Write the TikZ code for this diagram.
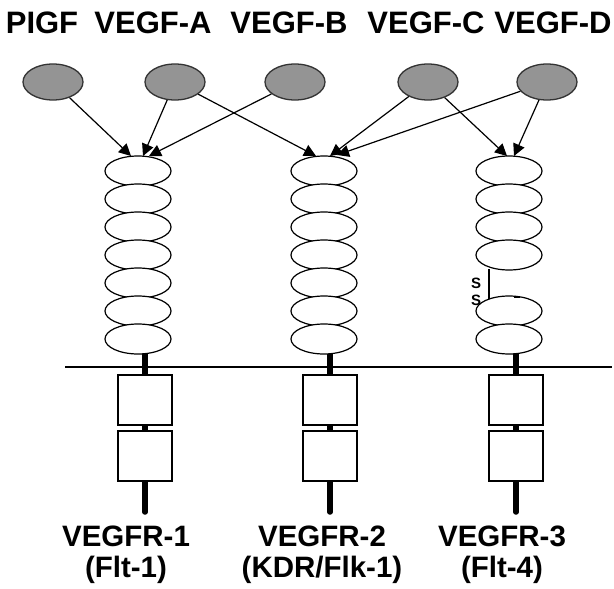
\documentclass[tikz,border=0pt]{standalone}
\usepackage{fontspec}
\setmainfont{Liberation Sans}
\usetikzlibrary{arrows.meta,shapes.geometric}
\begin{document}
\begin{tikzpicture}[x=1pt,y=-1pt,
  toplbl/.style={font=\bfseries\fontsize{31}{31}\selectfont, inner sep=0pt, anchor=base},
  botlbl/.style={font=\bfseries\fontsize{29.5}{30}\selectfont, inner sep=0pt, anchor=base, align=center},
  ligand/.style={ellipse, draw=black!80, line width=1.3pt, fill=black!42, minimum width=60pt, minimum height=36pt, inner sep=0pt},
  igdom/.style={ellipse, draw=black, line width=1.2pt, fill=white, minimum width=66pt, minimum height=30pt, inner sep=0pt},
  kinase/.style={rectangle, draw=black, line width=1.2pt, fill=white, minimum width=54pt, minimum height=50pt, inner sep=0pt},
  stem/.style={line width=5.5pt, line cap=round},
  bind/.style={line width=1.2pt, -{Triangle[length=12pt,width=12pt]}},
  sslbl/.style={font=\bfseries\fontsize{15}{17.5}\selectfont, inner sep=0pt, align=center}
]
\useasboundingbox (0,0) rectangle (614,589);

% top labels
\node[toplbl] (tP) at (42,34) {PIGF};
\node[toplbl] (tA) at (153,34) {VEGF-A};
\node[toplbl] (tB) at (289,34) {VEGF-B};
\node[toplbl] (tC) at (426,34) {VEGF-C};
\node[toplbl] (tD) at (553,34) {VEGF-D};

% ligands
\node[ligand] (LP) at (53,82) {};
\node[ligand] (LA) at (175,82) {};
\node[ligand] (LB) at (295,82) {};
\node[ligand] (LC) at (428,82) {};
\node[ligand] (LD) at (547,82) {};

% membrane
\coordinate (m1) at (65,367);
\coordinate (m2) at (612,367);
\draw[line width=1.2pt] (m1) -- (m2);

% stems
\foreach \n/\x in {1/145,2/330,3/516}{
  \coordinate (s\n top) at (\x,352);
  \coordinate (s\n bot) at (\x,512);
  \draw[stem] (s\n top) -- (s\n bot);
  \node[kinase] (k\n a) at (\x,400) {};
  \node[kinase] (k\n b) at (\x,456) {};
}

% Ig-like domains
\foreach \n/\x in {1/138,2/324}{
  \foreach \i in {0,...,6}{
    \node[igdom] (d\n-\i) at (\x,{171+28*\i}) {};
  }
}
\foreach \i in {0,1,2,3,5,6}{
  \node[igdom] (d3-\i) at (509,{171+28*\i}) {};
}
% disulfide bond
\coordinate (ss1) at (489,269);
\coordinate (ss2) at (489,299);
\draw[line width=2pt] (ss1) -- (ss2);
\coordinate (ssm1) at (514,297);
\coordinate (ssm2) at (520,297);
\draw[line width=2pt] (ssm1) -- (ssm2);
\node[sslbl] (SS) at (476,292) {S\\S};

% arrow targets
\coordinate (t1a) at (131,156);
\coordinate (t1b) at (143,156);
\coordinate (t1c) at (149,156);
\coordinate (t2a) at (316,156);
\coordinate (t2b) at (330,156);
\coordinate (t2c) at (337,155);
\coordinate (t3a) at (507,156);
\coordinate (t3b) at (514,156);

\draw[bind] (LP) -- (t1a);
\draw[bind] (LA) -- (t1b);
\draw[bind] (LB) -- (t1c);
\draw[bind] (LA) -- (t2a);
\draw[bind] (LC) -- (t2b);
\draw[bind] (LD) -- (t2c);
\draw[bind] (LC) -- (t3a);
\draw[bind] (LD) -- (t3b);

% bottom labels
\node[botlbl] (b1) at (126,546) {VEGFR-1};
\node[botlbl] (b1b) at (126,577) {(Flt-1)};
\node[botlbl] (b2) at (322,546) {VEGFR-2};
\node[botlbl] (b2b) at (322,577) {(KDR/Flk-1)};
\node[botlbl] (b3) at (502,546) {VEGFR-3};
\node[botlbl] (b3b) at (502,577) {(Flt-4)};
\end{tikzpicture}
\end{document}
